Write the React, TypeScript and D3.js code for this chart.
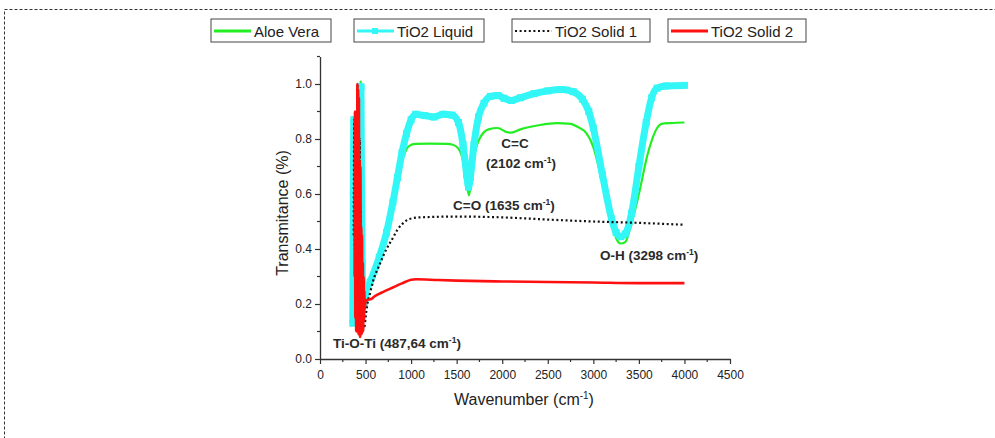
import React, { useRef, useEffect } from 'react';
import * as d3 from 'd3';

// tick values
const xTicks = [0, 500, 1000, 1500, 2000, 2500, 3000, 3500, 4000, 4500];
const xMinor = [250, 750, 1250, 1750, 2250, 2750, 3250, 3750, 4250];
const yTicks = [0, 0.2, 0.4, 0.6, 0.8, 1.0];
const yMinor = [0.1, 0.3, 0.5, 0.7, 0.9, 1.1];

// Aloe Vera
const aloeWn = [380, 390, 400, 410, 420, 430, 440, 446, 452, 460, 470, 480, 490, 500, 650, 800, 870, 920, 980, 1050,
  1200, 1400, 1450, 1520, 1570, 1610, 1635, 1660, 1700, 1750, 1850, 1950, 2050, 2100, 2200, 2400, 2600, 2750, 2850, 2900,
  3000, 3100, 3200, 3250, 3300, 3350, 3400, 3500, 3600, 3700, 3750, 3850, 4000];
const aloeT = [0.3, 0.6, 0.35, 0.8, 0.4, 0.95, 0.6, 1.01, 0.7, 0.4, 0.28, 0.2, 0.2, 0.22, 0.36, 0.56, 0.68, 0.74, 0.775, 0.782,
  0.783, 0.782, 0.78, 0.765, 0.72, 0.64, 0.595, 0.65, 0.75, 0.8, 0.835, 0.84, 0.825, 0.823, 0.835, 0.85, 0.858, 0.855, 0.84, 0.83,
  0.77, 0.64, 0.5, 0.44, 0.42, 0.425, 0.47, 0.6, 0.75, 0.84, 0.855, 0.858, 0.86];

// TiO2 Liquid
const liquidWn = [360, 366, 372, 378, 384, 390, 396, 402, 408, 414, 420, 426, 432, 438, 444, 450, 456, 462, 470, 480,
  490, 500, 550, 650, 730, 800, 850, 900, 950, 1000, 1050, 1150, 1250, 1350, 1450, 1520, 1570, 1610, 1630, 1650,
  1690, 1740, 1800, 1870, 1950, 2020, 2100, 2200, 2350, 2500, 2650, 2780, 2880, 2950, 3000, 3100, 3200, 3250, 3300, 3350,
  3420, 3500, 3580, 3640, 3700, 3800, 4000];
const liquidT = [0.13, 0.6, 0.87, 0.3, 0.75, 0.2, 0.5, 0.25, 0.6, 0.3, 0.55, 0.35, 0.8, 0.5, 0.97, 0.99, 0.6, 0.35, 0.25, 0.2,
  0.2, 0.24, 0.28, 0.37, 0.46, 0.57, 0.66, 0.75, 0.82, 0.87, 0.89, 0.885, 0.88, 0.89, 0.887, 0.86, 0.78, 0.67, 0.625, 0.66,
  0.78, 0.88, 0.93, 0.955, 0.958, 0.948, 0.94, 0.95, 0.965, 0.975, 0.98, 0.972, 0.945, 0.9, 0.84, 0.67, 0.51, 0.46, 0.445, 0.455,
  0.53, 0.7, 0.86, 0.95, 0.985, 0.993, 0.995];

// TiO2 Solid 1
const solid1Wn = [370, 376, 382, 388, 394, 400, 406, 412, 418, 424, 430, 436, 442, 448, 454, 460, 466, 472, 480, 490, 500,
  515, 550, 580, 650, 730, 800, 850, 900, 990, 1100, 1500, 2000, 2500, 3000, 3500, 4000];
const solid1T = [0.45, 0.87, 0.4, 0.7, 0.35, 0.9, 0.5, 1.0, 0.6, 0.95, 0.4, 0.8, 0.3, 0.55, 0.2, 0.35, 0.15, 0.12, 0.11, 0.12, 0.15,
  0.19, 0.24, 0.28, 0.34, 0.4, 0.44, 0.47, 0.49, 0.51, 0.515, 0.518, 0.515, 0.507, 0.5, 0.495, 0.488];

// TiO2 Solid 2
const solid2Wn = [380, 384, 388, 393, 397, 401, 406, 410, 414, 419, 423, 427, 431, 436, 440, 444, 449, 453, 457, 461,
  466, 470, 474, 479, 483, 487, 491, 496, 500, 520, 560, 600, 700, 800, 900, 1000, 1050, 1300, 1500, 2000,
  2500, 3000, 3500, 4000];
const solid2T = [0.3, 0.9, 0.15, 0.6, 0.1, 0.85, 0.12, 1.0, 0.1, 0.98, 0.09, 0.95, 0.1, 0.72, 0.08, 0.7, 0.1, 0.48, 0.09, 0.45,
  0.12, 0.35, 0.1, 0.3, 0.14, 0.25, 0.18, 0.2, 0.21, 0.215, 0.218, 0.228, 0.245, 0.26, 0.275, 0.288, 0.29, 0.287, 0.285, 0.282,
  0.28, 0.278, 0.276, 0.276];

const legendNames = ['Aloe Vera', 'TiO2 Liquid', 'TiO2 Solid 1', 'TiO2 Solid 2'];

// band labels: text, superscript tail, anchor wavenumber / transmittance
const bandText = ['C=C', '(2102 cm', 'C=O (1635 cm', 'O-H (3298 cm', 'Ti-O-Ti (487,64 cm'];
const bandSup = [false, true, true, true, true];
const bandWn = [2140, 2206, 1460, 3073, 143];
const bandT = [0.767, 0.695, 0.542, 0.36, 0.04];
const bandAnchor = ['middle', 'middle', 'start', 'start', 'start'];

const FONT = 'Arial, "Liberation Sans", sans-serif';

const App = () => {
  const ref = useRef(null);

  useEffect(() => {
    const width = 995;
    const height = 438;
    d3.select(ref.current).selectAll('*').remove();

    const svg = d3.select(ref.current)
      .append('svg')
      .attr('width', width)
      .attr('height', height)
      .style('position', 'absolute')
      .style('left', 0)
      .style('top', 0)
      .style('font-family', FONT);

    svg.append('rect').attr('width', width).attr('height', height).attr('fill', '#fff');

    // dashed frame (runs off the right and bottom of the picture)
    svg.append('rect')
      .attr('x', 4.5).attr('y', 9.5)
      .attr('width', 1010).attr('height', 450)
      .attr('fill', 'none')
      .attr('stroke', '#333')
      .attr('stroke-width', 1)
      .attr('stroke-dasharray', '3 2');

    const x = d3.scaleLinear().domain([0, 4500]).range([320, 730]);
    const y = d3.scaleLinear().domain([0, 1.1]).range([359, 56.5]);

    const axisColor = '#333';

    const xAxis = svg.append('g')
      .attr('transform', `translate(0,${y(0)})`)
      .call(d3.axisBottom(x).tickValues(xTicks).tickSize(5).tickSizeOuter(0).tickPadding(6).tickFormat(d3.format('d')));
    xAxis.append('g').selectAll('line').data(xMinor).enter().append('line')
      .attr('x1', d => x(d)).attr('x2', d => x(d)).attr('y1', 0).attr('y2', 3)
      .attr('stroke', axisColor).attr('stroke-width', 1.2);

    const yAxis = svg.append('g')
      .attr('transform', `translate(${x(0)},0)`)
      .call(d3.axisLeft(y).tickValues(yTicks).tickSize(5).tickSizeOuter(0).tickPadding(3).tickFormat(d3.format('.1f')));
    yAxis.append('g').selectAll('line').data(yMinor).enter().append('line')
      .attr('y1', d => y(d)).attr('y2', d => y(d)).attr('x1', 0).attr('x2', -3)
      .attr('stroke', axisColor).attr('stroke-width', 1.2);

    [xAxis, yAxis].forEach(a => {
      a.select('.domain').attr('stroke', axisColor).attr('stroke-width', 1.3);
      a.selectAll('.tick line').attr('stroke', axisColor).attr('stroke-width', 1.2);
      a.selectAll('.tick text').attr('fill', '#222').style('font-size', '12px').style('font-family', FONT);
    });

    // axis titles
    svg.append('text')
      .attr('transform', `translate(288,213) rotate(-90)`)
      .attr('text-anchor', 'middle')
      .attr('fill', '#222')
      .style('font-size', '16px')
      .text('Transmitance (%)');

    const xt = svg.append('text')
      .attr('x', 524).attr('y', 405)
      .attr('text-anchor', 'middle')
      .attr('fill', '#222')
      .style('font-size', '16px');
    xt.append('tspan').text('Wavenumber (cm');
    xt.append('tspan').attr('dy', -6).style('font-size', '10px').text('-1');
    xt.append('tspan').attr('dy', 6).text(')');

    const line = d3.line().x(d => x(d[0])).y(d => y(d[1])).curve(d3.curveMonotoneX);
    const zip = (a, b) => a.map((v, i) => [v, b[i]]);

    const plot = svg.append('g');

    // Aloe Vera
    plot.append('path').datum(zip(aloeWn, aloeT))
      .attr('d', line).attr('fill', 'none').attr('stroke', '#22ee22').attr('stroke-width', 2.2)
      .attr('stroke-linejoin', 'round');

    // TiO2 Liquid: thick band of square markers
    const liq = zip(liquidWn, liquidT);
    plot.append('path').datum(liq)
      .attr('d', line).attr('fill', 'none').attr('stroke', '#33f6f6').attr('stroke-width', 7)
      .attr('stroke-linejoin', 'round');
    plot.append('g').selectAll('rect').data(liq).enter().append('rect')
      .attr('x', d => x(d[0]) - 3.5).attr('y', d => y(d[1]) - 3.5)
      .attr('width', 7).attr('height', 7).attr('fill', '#33f6f6');

    // TiO2 Solid 1: dotted
    plot.append('path').datum(zip(solid1Wn, solid1T))
      .attr('d', line).attr('fill', 'none').attr('stroke', '#111').attr('stroke-width', 2.2)
      .attr('stroke-dasharray', '2 2.6');

    // TiO2 Solid 2
    plot.append('path').datum(zip(solid2Wn, solid2T))
      .attr('d', line).attr('fill', 'none').attr('stroke', '#ff1010').attr('stroke-width', 2.6)
      .attr('stroke-linejoin', 'round');

    // band annotations
    bandText.forEach((t, i) => {
      const tx = svg.append('text')
        .attr('x', x(bandWn[i])).attr('y', y(bandT[i]))
        .attr('text-anchor', bandAnchor[i])
        .attr('fill', '#2a2a2a')
        .style('font-size', '13.5px')
        .style('font-weight', 'bold');
      tx.append('tspan').text(t);
      if (bandSup[i]) {
        tx.append('tspan').attr('dy', -5).style('font-size', '8.5px').text('-1');
        tx.append('tspan').attr('dy', 5).text(')');
      }
    });

    // legend
    const legX = [211, 354, 512, 668];
    const legW = [120, 130, 138, 138];
    const legColors = ['#22ee22', '#33f6f6', '#111', '#ff1010'];
    legendNames.forEach((name, i) => {
      const g = svg.append('g').attr('transform', `translate(${legX[i]},19)`);
      g.append('rect').attr('width', legW[i]).attr('height', 23)
        .attr('fill', '#fff').attr('stroke', '#444').attr('stroke-width', 1);
      const ln = g.append('line').attr('x1', 3).attr('x2', 40).attr('y1', 12).attr('y2', 12)
        .attr('stroke', legColors[i]).attr('stroke-width', i === 2 ? 2.2 : 3);
      if (i === 2) ln.attr('stroke-dasharray', '2 2.6');
      if (i === 1) {
        g.append('rect').attr('x', 18).attr('y', 9).attr('width', 6).attr('height', 6).attr('fill', legColors[i]);
      }
      g.append('text').attr('x', 43).attr('y', 17.5)
        .attr('fill', '#222')
        .style('font-size', '15px')
        .text(name);
    });
  }, []);

  return <div ref={ref}></div>;
};

export default App;
